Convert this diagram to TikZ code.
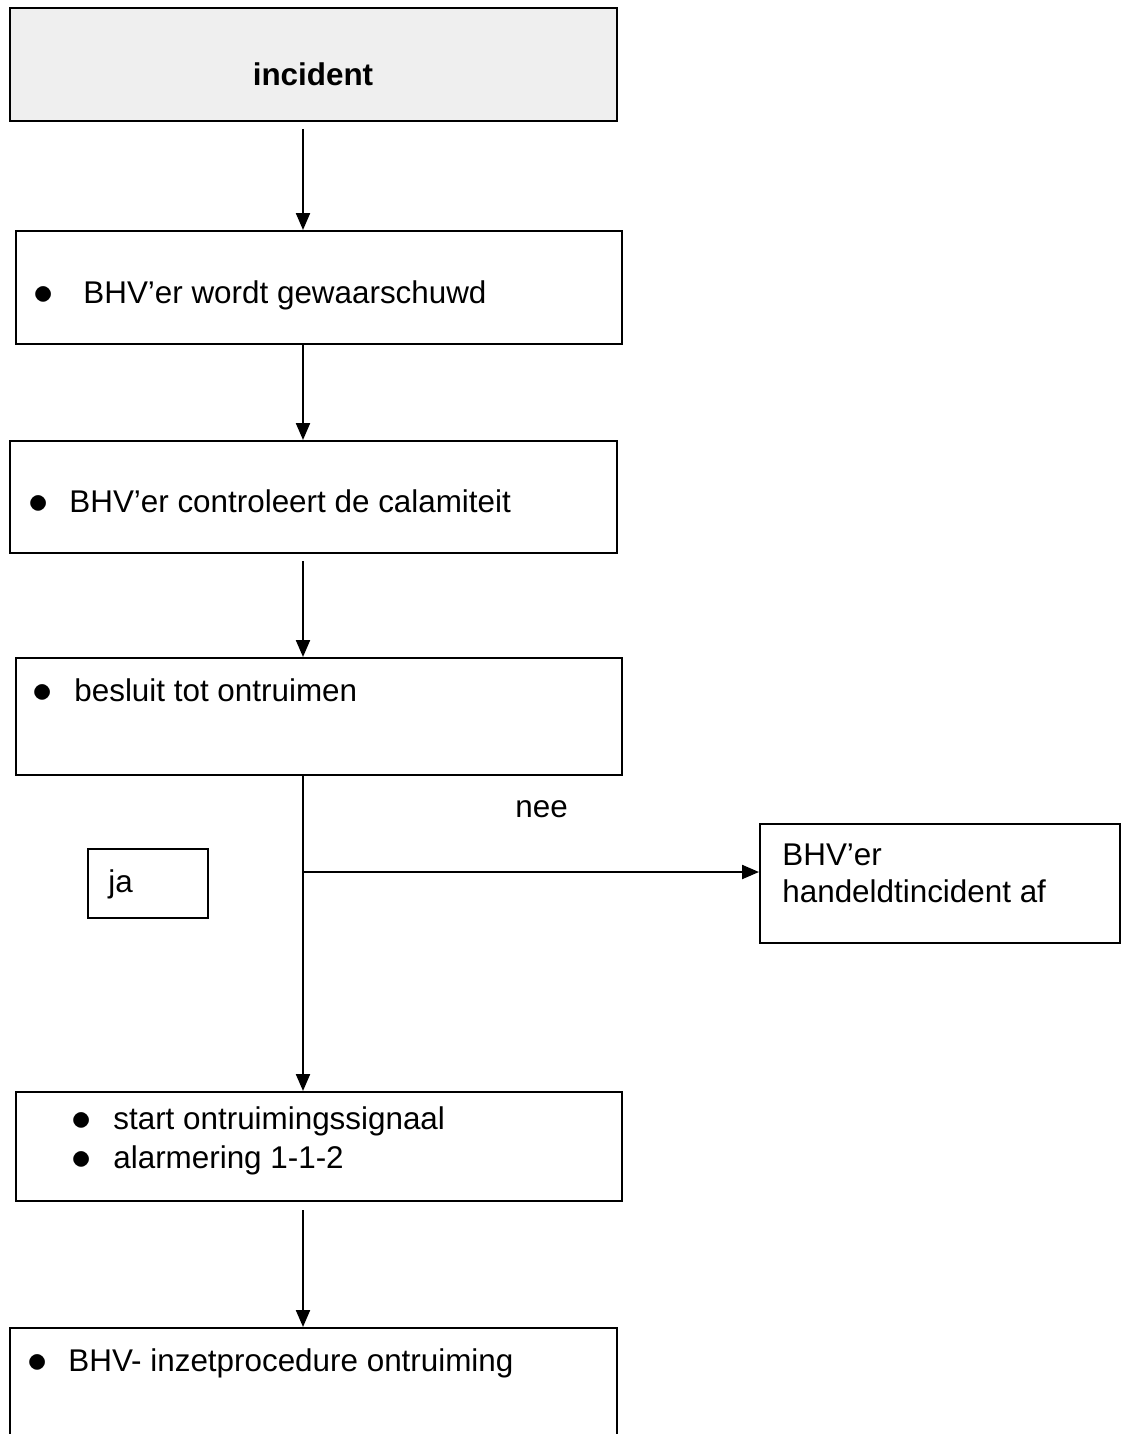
\documentclass[tikz,border=0pt]{standalone}
\usepackage{graphicx}
\usepackage{fontspec}
\setmainfont{Liberation Sans}
\usetikzlibrary{arrows.meta}

\definecolor{boxgray}{RGB}{239,239,239}
\newcommand{\bigdot}{\raisebox{-0.8pt}{\scalebox{1.4}{$\bullet$}}}

\tikzset{
  box/.style={draw, line width=1pt, rectangle, inner sep=0pt},
  txt/.style={anchor=base west, inner sep=0pt, font=\fontsize{15.7}{18.5}\selectfont},
  flow/.style={line width=1.1pt, -{Triangle[width=7pt,length=8.5pt]}},
}

\begin{document}
\begin{tikzpicture}[x=0.5pt,y=0.5pt,yscale=-1,xscale=1]
\useasboundingbox (0,0) rectangle (1128,1434);
\clip (0,0) rectangle (1128,1434);

% Boxes
\node (incident) [box, fill=boxgray, minimum width=303.5pt, minimum height=56.5pt] at (313.5,64.5) {};
\node (warn) [box, minimum width=303pt, minimum height=56.5pt] at (319,287.5) {};
\node (check) [box, minimum width=303.5pt, minimum height=56pt] at (313.5,497) {};
\node (decide) [box, minimum width=303pt, minimum height=58.5pt] at (319,716.5) {};
\node (yes) [box, minimum width=60pt, minimum height=34.5pt] at (148,883.5) {};
\node (handle) [box, minimum width=180pt, minimum height=59.5pt] at (940,883.5) {};
\node (alarm) [box, minimum width=303pt, minimum height=54.5pt] at (319,1146.5) {};
\node (evac) [box, minimum width=303.5pt, minimum height=61pt] at (313.5,1389) {};

% Texts
\node (tincident) [anchor=base, inner sep=0pt, font=\bfseries\fontsize{15.7}{18.5}\selectfont] at (313,86) {incident};
\node (bwarn) [txt] at (33,303) {\bigdot};
\node (twarn) [txt] at (83,303) {BHV’er wordt gewaarschuwd};
\node (bcheck) [txt] at (28,512) {\bigdot};
\node (tcheck) [txt] at (69,512) {BHV’er controleert de calamiteit};
\node (bdecide) [txt] at (32,701) {\bigdot};
\node (tdecide) [txt] at (74,701) {besluit tot ontruimen};
\node (tyes) [txt] at (108,892) {ja};
\node (tno) [txt] at (515,817) {nee};
\node (thandle) [txt] at (782,865) {BHV’er};
\node (thandleb) [txt] at (782,902) {handeldtincident af};
\node (balarm) [txt] at (71,1129) {\bigdot};
\node (talarm) [txt] at (113,1129) {start ontruimingssignaal};
\node (balarmb) [txt] at (71,1168) {\bigdot};
\node (talarmb) [txt] at (113,1168) {alarmering 1-1-2};
\node (bevac) [txt] at (27,1371) {\bigdot};
\node (tevac) [txt] at (68,1371) {BHV- inzetprocedure ontruiming};

% Connectors
\coordinate (spine) at (303,0);
\coordinate (branch) at (303,872);
\draw[flow] ([yshift=3.5pt]incident.south -| spine) -- (warn.north -| spine);
\draw[flow] (warn.south -| spine) -- (check.north -| spine);
\draw[flow] ([yshift=3.5pt]check.south -| spine) -- (decide.north -| spine);
\draw[flow] (decide.south -| spine) -- (alarm.north -| spine);
\draw[flow] (branch) -- (branch -| handle.west);
\draw[flow] ([yshift=4pt]alarm.south -| spine) -- (evac.north -| spine);

\end{tikzpicture}
\end{document}
